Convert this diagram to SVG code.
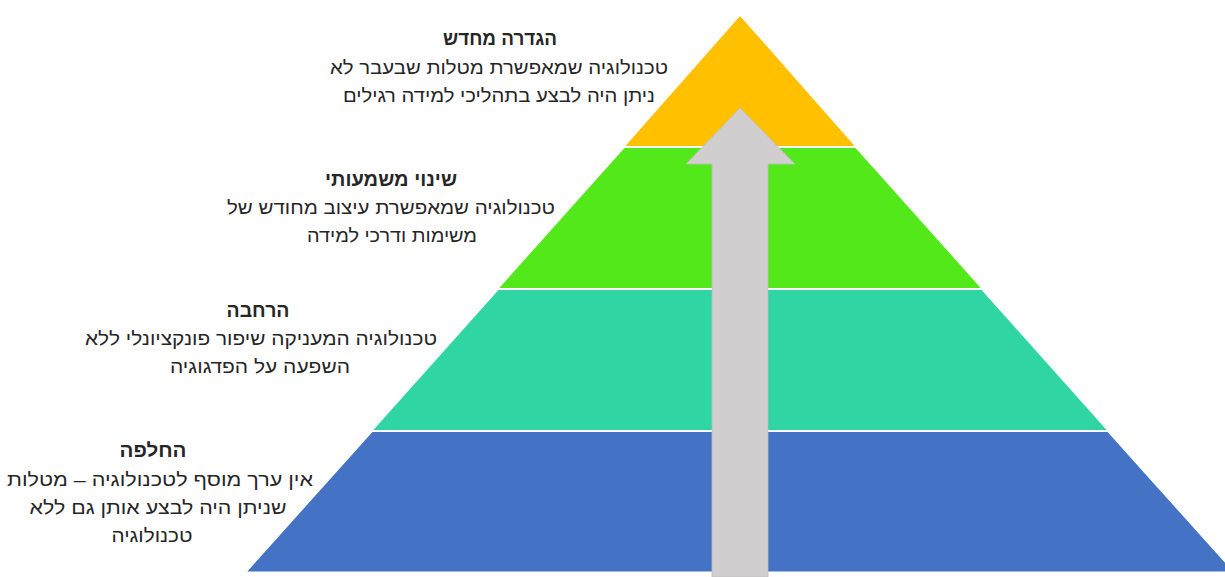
<svg xmlns="http://www.w3.org/2000/svg" width="1225" height="577" viewBox="0 0 1225 577">
<style>
.t{font-family:"Liberation Sans","DejaVu Sans",sans-serif;font-size:19px;fill:#262626;text-anchor:middle;direction:rtl}
.b{font-weight:bold}
.layer{stroke:#ffffff;stroke-width:1.2}
</style>
<rect width="1225" height="577" fill="#ffffff"/>
<g id="layer-top"><polygon class="layer" points="740,15 856,146.5 624,146.5" fill="#FFC000"/></g>
<g id="layer-2"><polygon class="layer" points="624,147.5 856,147.5 982,288.5 498,288.5" fill="#53E81A"/></g>
<g id="layer-3"><polygon class="layer" points="498,289.5 982,289.5 1108,430.5 372,430.5" fill="#2FD6A3"/></g>
<g id="layer-4"><polygon class="layer" points="372,431.5 1108,431.5 1234,572 246,572" fill="#4472C4"/></g>
<g id="connectors">
<polygon points="740,108 795,164 768,164 768,577 712,577 712,164 686,164" fill="#D0CECE" stroke="#BFBDBD" stroke-width="0.8"/>
</g>
<g id="text-1">
<text class="t b" x="500" y="45" textLength="114" lengthAdjust="spacingAndGlyphs">הגדרה מחדש</text>
<text class="t" x="499" y="74" textLength="338" lengthAdjust="spacingAndGlyphs">טכנולוגיה שמאפשרת מטלות שבעבר לא</text>
<text class="t" x="499" y="102" textLength="312" lengthAdjust="spacingAndGlyphs">ניתן היה לבצע בתהליכי למידה רגילים</text>
</g>
<g id="text-2">
<text class="t b" x="391" y="186" textLength="132" lengthAdjust="spacingAndGlyphs">שינוי משמעותי</text>
<text class="t" x="391" y="214" textLength="328" lengthAdjust="spacingAndGlyphs">טכנולוגיה שמאפשרת עיצוב מחודש של</text>
<text class="t" x="392" y="242" textLength="170" lengthAdjust="spacingAndGlyphs">משימות ודרכי למידה</text>
</g>
<g id="text-3">
<text class="t b" x="258" y="317" textLength="63" lengthAdjust="spacingAndGlyphs">הרחבה</text>
<text class="t" x="261" y="345" textLength="352" lengthAdjust="spacingAndGlyphs">טכנולוגיה המעניקה שיפור פונקציונלי ללא</text>
<text class="t" x="260" y="373" textLength="180" lengthAdjust="spacingAndGlyphs">השפעה על הפדגוגיה</text>
</g>
<g id="text-4">
<text class="t b" x="153" y="457" textLength="67" lengthAdjust="spacingAndGlyphs">החלפה</text>
<text class="t" x="160" y="486" textLength="306" lengthAdjust="spacingAndGlyphs">אין ערך מוסף לטכנולוגיה – מטלות</text>
<text class="t" x="158" y="514" textLength="257" lengthAdjust="spacingAndGlyphs">שניתן היה לבצע אותן גם ללא</text>
<text class="t" x="152" y="542" textLength="81" lengthAdjust="spacingAndGlyphs">טכנולוגיה</text>
</g>
</svg>
